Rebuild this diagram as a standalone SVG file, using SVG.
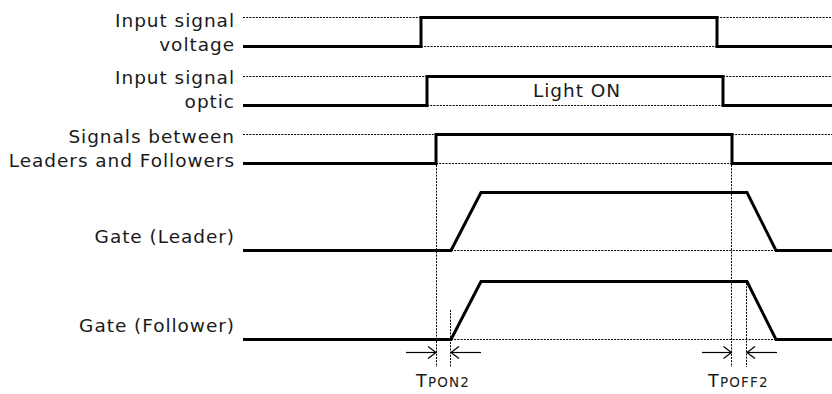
<svg xmlns="http://www.w3.org/2000/svg" width="832" height="394" viewBox="0 0 832 394">
<style>
.lbl{font-family:"DejaVu Sans","Verdana",sans-serif;font-size:18.5px;letter-spacing:0.95px;fill:#1a1a1a;text-anchor:end}
.mid{font-family:"DejaVu Sans","Verdana",sans-serif;font-size:18.5px;letter-spacing:0.95px;fill:#1a1a1a;text-anchor:middle}
.tl{font-family:"DejaVu Sans","Verdana",sans-serif;font-size:17.5px;fill:#1a1a1a}
.sig{fill:none;stroke:#000;stroke-width:3;stroke-linejoin:miter}
.dot{fill:none;stroke:#000;stroke-width:1;stroke-dasharray:2 1.2}
.arr{fill:none;stroke:#000;stroke-width:1.2}
</style>
<defs>
<marker id="ah" markerWidth="12" markerHeight="14" refX="10" refY="7" orient="auto" markerUnits="userSpaceOnUse">
<path d="M2,1 L10,7 L2,13" fill="none" stroke="#000" stroke-width="1.2"/>
</marker>
</defs>
<g id="labels">
<text class="lbl" x="235" y="27">Input signal</text>
<text class="lbl" x="235" y="51">voltage</text>
<text class="lbl" x="235" y="84">Input signal</text>
<text class="lbl" x="235" y="108">optic</text>
<text class="lbl" x="235" y="143">Signals between</text>
<text class="lbl" x="235" y="167">Leaders and Followers</text>
<text class="lbl" x="235" y="243">Gate (Leader)</text>
<text class="lbl" x="235" y="332">Gate (Follower)</text>
</g>
<g id="sig-voltage">
<path class="dot" d="M243,17.5 H421 M717,17.5 H832 M421,46.5 H717"/>
<path class="sig" d="M243,46.5 H421 V17.5 H717 V46.5 H832"/>
</g>
<g id="sig-optic">
<path class="dot" d="M243,76.5 H427 M723,76.5 H832 M427,105.5 H723"/>
<path class="sig" d="M243,105.5 H427 V76.5 H723 V105.5 H832"/>
<text class="mid" x="577" y="97">Light ON</text>
</g>
<g id="sig-between">
<path class="dot" d="M243,134.5 H436 M732,134.5 H832 M436,163.5 H732"/>
<path class="sig" d="M243,163.5 H436 V134.5 H732 V163.5 H832"/>
</g>
<g id="gate-leader">
<path class="dot" d="M451,250.5 H776"/>
<path class="sig" d="M243,250.5 H451 L481,192.5 H747 L776,250.5 H832"/>
</g>
<g id="gate-follower">
<path class="dot" d="M451,339.5 H776"/>
<path class="sig" d="M243,339.5 H451 L481,281.5 H747 L776,339.5 H832"/>
</g>
<g id="connectors">
<path class="dot" d="M436.5,165 V367 M731.5,165 V367 M450.5,310 V367 M746.5,283 V367"/>
<line class="arr" x1="406" y1="352.5" x2="436" y2="352.5" marker-end="url(#ah)"/>
<line class="arr" x1="481" y1="352.5" x2="451" y2="352.5" marker-end="url(#ah)"/>
<line class="arr" x1="702" y1="352.5" x2="731.5" y2="352.5" marker-end="url(#ah)"/>
<line class="arr" x1="777" y1="352.5" x2="747" y2="352.5" marker-end="url(#ah)"/>
</g>
<g id="timing-labels">
<text class="tl" x="416" y="387" letter-spacing="1.2">T<tspan font-size="13.5">PON2</tspan></text>
<text class="tl" x="708" y="387" letter-spacing="1.2">T<tspan font-size="13.5">POFF2</tspan></text>
</g>
</svg>
